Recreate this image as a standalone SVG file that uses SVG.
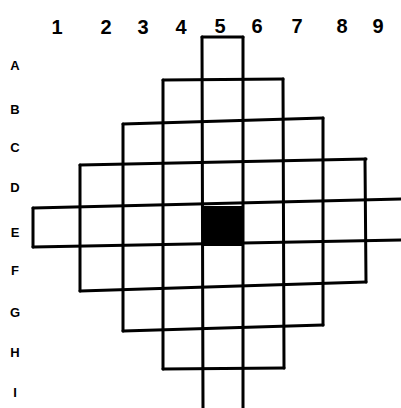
<svg xmlns="http://www.w3.org/2000/svg" width="401" height="408" viewBox="0 0 401 408">
<style>
.g{stroke:#000;stroke-width:3;stroke-linecap:round;fill:none}
.c{font-family:"Liberation Sans",Arial,sans-serif;font-weight:bold;font-size:20px;fill:#000;text-anchor:middle}
.r{font-family:"Liberation Sans",Arial,sans-serif;font-weight:bold;font-size:13px;fill:#000;text-anchor:middle}
</style>
<rect width="401" height="408" fill="#fff"/>
<g id="columns">
<text class="c" x="57" y="34">1</text>
<text class="c" x="106" y="34">2</text>
<text class="c" x="143" y="34">3</text>
<text class="c" x="181" y="34">4</text>
<text class="c" x="220" y="33">5</text>
<text class="c" x="257" y="33">6</text>
<text class="c" x="297" y="33">7</text>
<text class="c" x="342" y="33">8</text>
<text class="c" x="378" y="33">9</text>
</g>
<g id="rows">
<text class="r" x="15" y="70">A</text>
<text class="r" x="15" y="114">B</text>
<text class="r" x="15" y="152">C</text>
<text class="r" x="15" y="192">D</text>
<text class="r" x="15" y="237">E</text>
<text class="r" x="15" y="275">F</text>
<text class="r" x="15" y="317">G</text>
<text class="r" x="15" y="357">H</text>
<text class="r" x="15" y="397">I</text>
</g>
<g id="grid" class="g">
<line x1="202" y1="37" x2="243" y2="37"/>
<line x1="163" y1="80" x2="283" y2="79"/>
<line x1="123" y1="124" x2="323" y2="118"/>
<line x1="80" y1="165" x2="366" y2="159"/>
<line x1="33" y1="208" x2="401" y2="199"/>
<line x1="33" y1="247" x2="401" y2="240"/>
<line x1="80" y1="291" x2="366" y2="282"/>
<line x1="123" y1="331" x2="323" y2="325"/>
<line x1="163" y1="369" x2="284" y2="368"/>
<line x1="33" y1="208" x2="33" y2="247"/>
<line x1="80" y1="165" x2="80" y2="291"/>
<line x1="123" y1="124" x2="123" y2="331"/>
<line x1="163" y1="80" x2="163" y2="369"/>
<line x1="202" y1="37" x2="203" y2="408"/>
<line x1="243" y1="37" x2="243" y2="408"/>
<line x1="283" y1="79" x2="284" y2="368"/>
<line x1="323" y1="118" x2="323" y2="325"/>
<line x1="365" y1="159" x2="366" y2="282"/>
</g>
<rect id="center" x="203" y="206" width="40" height="40" fill="#000"/>
</svg>
